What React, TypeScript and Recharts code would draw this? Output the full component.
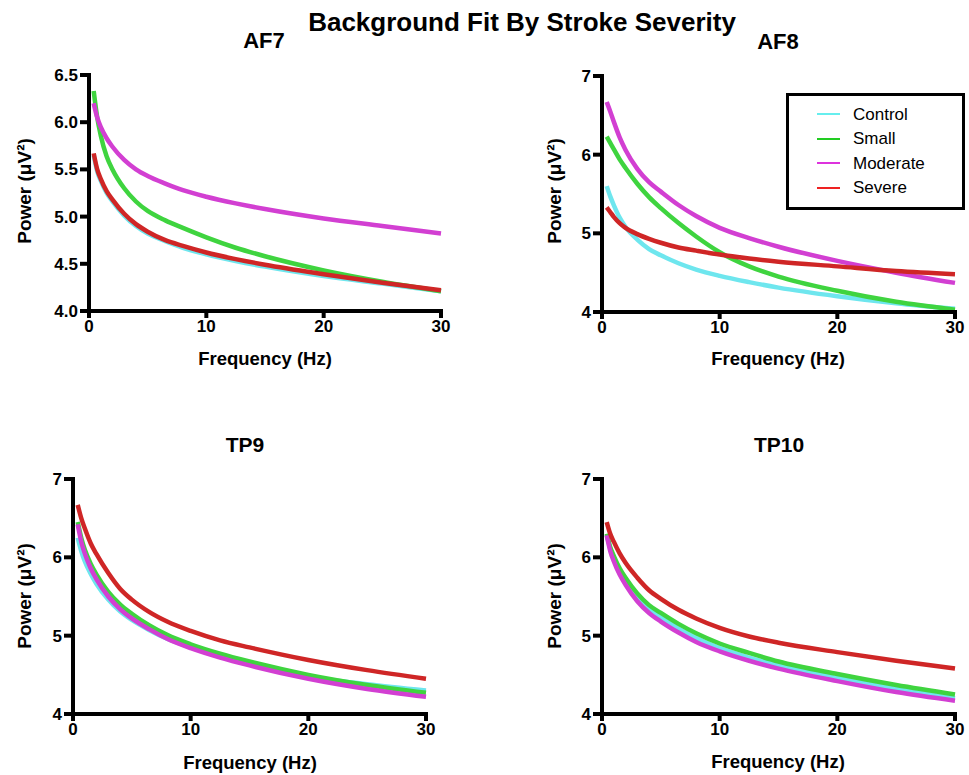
import React from 'react';
import { LineChart, Line, XAxis, YAxis, Legend, ReferenceLine } from 'recharts';

const FONT = '"Liberation Sans", Arial, Helvetica, sans-serif';

// ---- data ----
const freqHz = [0.4, 0.7, 1, 1.5, 2, 3, 4, 5, 6.5, 8, 10, 12.5, 15, 20, 25, 30];
const seriesNames = ['Control', 'Small', 'Moderate', 'Severe'];
const seriesColors = ['#6ee6ee', '#3fd43f', '#d23fd2', '#cf2626'];
const legendColors = ['#66eeee', '#22cc22', '#dd33dd', '#ee2222'];

const af7Control = [5.65, 5.48, 5.38, 5.25, 5.16, 5.01, 4.9, 4.82, 4.74, 4.67, 4.6, 4.53, 4.47, 4.37, 4.29, 4.21];
const af7Small = [6.33, 6.05, 5.86, 5.64, 5.5, 5.3, 5.16, 5.06, 4.96, 4.88, 4.78, 4.67, 4.58, 4.43, 4.31, 4.21];
const af7Moderate = [6.2, 6.05, 5.95, 5.83, 5.74, 5.6, 5.5, 5.43, 5.35, 5.28, 5.21, 5.14, 5.08, 4.98, 4.9, 4.82];
const af7Severe = [5.67, 5.5, 5.4, 5.27, 5.18, 5.03, 4.92, 4.84, 4.75, 4.69, 4.62, 4.55, 4.49, 4.39, 4.3, 4.22];

const af8Control = [5.6, 5.47, 5.36, 5.2, 5.08, 4.92, 4.8, 4.72, 4.62, 4.54, 4.46, 4.38, 4.31, 4.2, 4.11, 4.04];
const af8Small = [6.23, 6.15, 6.07, 5.94, 5.83, 5.63, 5.46, 5.32, 5.13, 4.96, 4.76, 4.58, 4.45, 4.27, 4.13, 4.03];
const af8Moderate = [6.67, 6.55, 6.42, 6.22, 6.06, 5.82, 5.65, 5.53, 5.36, 5.22, 5.07, 4.94, 4.83, 4.65, 4.5, 4.37];
const af8Severe = [5.33, 5.27, 5.21, 5.13, 5.07, 4.99, 4.93, 4.88, 4.82, 4.78, 4.73, 4.68, 4.64, 4.58, 4.52, 4.48];

const tp9Control = [6.25, 6.08, 5.95, 5.79, 5.66, 5.46, 5.31, 5.2, 5.07, 4.96, 4.85, 4.74, 4.64, 4.48, 4.38, 4.3];
const tp9Small = [6.45, 6.25, 6.1, 5.92, 5.78, 5.56, 5.4, 5.28, 5.13, 5.01, 4.89, 4.77, 4.67, 4.5, 4.37, 4.27];
const tp9Moderate = [6.42, 6.2, 6.05, 5.86, 5.72, 5.5, 5.34, 5.22, 5.08, 4.96, 4.84, 4.72, 4.62, 4.45, 4.32, 4.22];
const tp9Severe = [6.67, 6.5, 6.37, 6.18, 6.04, 5.8, 5.6, 5.46, 5.3, 5.18, 5.06, 4.94, 4.85, 4.69, 4.56, 4.45];

const tp10Control = [6.29, 6.11, 5.98, 5.82, 5.69, 5.49, 5.34, 5.23, 5.09, 4.97, 4.84, 4.72, 4.62, 4.46, 4.32, 4.2];
const tp10Small = [6.3, 6.13, 6.02, 5.86, 5.74, 5.54, 5.39, 5.29, 5.15, 5.03, 4.9, 4.78, 4.67, 4.51, 4.37, 4.25];
const tp10Moderate = [6.28, 6.08, 5.95, 5.78, 5.65, 5.44, 5.29, 5.18, 5.04, 4.92, 4.8, 4.68, 4.58, 4.42, 4.28, 4.17];
const tp10Severe = [6.45, 6.3, 6.2, 6.05, 5.93, 5.74, 5.58, 5.47, 5.33, 5.22, 5.1, 4.99, 4.91, 4.79, 4.68, 4.58];

const xTicks = [0, 10, 20, 30];
const af7YTicks = [4.0, 4.5, 5.0, 5.5, 6.0, 6.5];
const otherYTicks = [4, 5, 6, 7];

const buildRows = (vals: number[][]) =>
  freqHz.map((f, i) => ({
    f,
    Control: vals[0][i],
    Small: vals[1][i],
    Moderate: vals[2][i],
    Severe: vals[3][i],
  }));

const LegendBox = () => (
  <div
    style={{
      boxSizing: 'border-box',
      width: 179,
      height: 117,
      border: '3px solid #000',
      background: '#fff',
      paddingTop: 6,
      fontFamily: FONT,
      fontSize: 17,
      color: '#000',
    }}
  >
    {seriesNames.map((n, i) => (
      <div key={n} style={{ display: 'flex', alignItems: 'center', height: 24.5 }}>
        <div style={{ marginLeft: 28, width: 23, height: 2, background: legendColors[i] }} />
        <span style={{ marginLeft: 13, lineHeight: 1 }}>{n}</span>
      </div>
    ))}
  </div>
);

type PanelProps = {
  px: number;
  py: number;
  pw: number;
  ph: number;
  vals: number[][];
  yDomain: [number, number];
  yTicks: number[];
  decimals: number;
  legend?: boolean;
};

const AXIS_W = 4;

const Panel = ({ px, py, pw, ph, vals, yDomain, yTicks, decimals, legend }: PanelProps) => {
  const L = 70, T = 10, R = 15, B = 45;
  const data = buildRows(vals);
  const tickStyle = { fontFamily: FONT, fontSize: 17, fontWeight: 'bold' as const, fill: '#000' };
  return (
    <div style={{ position: 'absolute', left: px - L, top: py - T }}>
      <LineChart
        width={pw + L + R}
        height={ph + T + B}
        data={data}
        margin={{ top: T, right: R, left: 0, bottom: 0 }}
      >
        <XAxis
          dataKey="f"
          type="number"
          domain={[0, 30]}
          ticks={xTicks}
          height={B}
          axisLine={false}
          tickLine={{ stroke: '#000', strokeWidth: AXIS_W }}
          tickSize={7}
          tickMargin={2}
          tick={tickStyle}
          interval={0}
        />
        <YAxis
          type="number"
          domain={yDomain}
          ticks={yTicks}
          width={L}
          axisLine={false}
          tickLine={{ stroke: '#000', strokeWidth: AXIS_W }}
          tickSize={9}
          tickMargin={2}
          tick={tickStyle}
          interval={0}
          allowDataOverflow
          tickFormatter={(v: number) => Number(v).toFixed(decimals)}
        />
        {seriesNames.map((n, i) => (
          <Line
            key={n}
            dataKey={n}
            type="monotone"
            stroke={seriesColors[i]}
            strokeWidth={4.5}
            dot={false}
            activeDot={false}
            isAnimationActive={false}
          />
        ))}
        <ReferenceLine x={0} stroke="#000" strokeWidth={AXIS_W} strokeLinecap="square" />
        <ReferenceLine y={yDomain[0]} stroke="#000" strokeWidth={AXIS_W} strokeLinecap="square" />
        {legend && (
          <Legend
            layout="vertical"
            align="center"
            verticalAlign="middle"
            content={() => <LegendBox />}
            wrapperStyle={{ left: 254, top: 27, width: 179, height: 117 }}
          />
        )}
      </LineChart>
    </div>
  );
};

const Txt = ({ x, y, size, weight = 'bold', rotate = 0, children }: any) => (
  <div
    style={{
      position: 'absolute',
      left: x,
      top: y,
      transform: `translate(-50%, -50%) rotate(${rotate}deg)`,
      fontFamily: FONT,
      fontSize: size,
      fontWeight: weight,
      lineHeight: 1,
      whiteSpace: 'nowrap',
      color: '#000',
    }}
  >
    {children}
  </div>
);

export default function App() {
  return (
    <div style={{ position: 'absolute', left: 0, top: 0, width: 969, height: 775, background: '#fff', overflow: 'hidden' }}>
      <Panel px={89} py={75} pw={352} ph={236}
        vals={[af7Control, af7Small, af7Moderate, af7Severe]}
        yDomain={[4, 6.5]} yTicks={af7YTicks} decimals={1} />
      <Panel px={602} py={76} pw={353} ph={236}
        vals={[af8Control, af8Small, af8Moderate, af8Severe]}
        yDomain={[4, 7]} yTicks={otherYTicks} decimals={0} legend />
      <Panel px={73} py={479} pw={353} ph={235}
        vals={[tp9Control, tp9Small, tp9Moderate, tp9Severe]}
        yDomain={[4, 7]} yTicks={otherYTicks} decimals={0} />
      <Panel px={602} py={479} pw={353} ph={235}
        vals={[tp10Control, tp10Small, tp10Moderate, tp10Severe]}
        yDomain={[4, 7]} yTicks={otherYTicks} decimals={0} />

      <Txt x={522} y={22} size={26}>Background Fit By Stroke Severity</Txt>
      <Txt x={264} y={41} size={22}>AF7</Txt>
      <Txt x={778} y={42} size={22}>AF8</Txt>
      <Txt x={245} y={444} size={21}>TP9</Txt>
      <Txt x={779} y={444} size={21}>TP10</Txt>

      <Txt x={265} y={359} size={18.5}>Frequency (Hz)</Txt>
      <Txt x={778} y={359} size={18.5}>Frequency (Hz)</Txt>
      <Txt x={250} y={763} size={18.5}>Frequency (Hz)</Txt>
      <Txt x={778} y={762} size={18.5}>Frequency (Hz)</Txt>

      <Txt x={24} y={191} size={19} rotate={-90}>Power (μV²)</Txt>
      <Txt x={554} y={191} size={19} rotate={-90}>Power (μV²)</Txt>
      <Txt x={24} y={596} size={19} rotate={-90}>Power (μV²)</Txt>
      <Txt x={554} y={596} size={19} rotate={-90}>Power (μV²)</Txt>
    </div>
  );
}
